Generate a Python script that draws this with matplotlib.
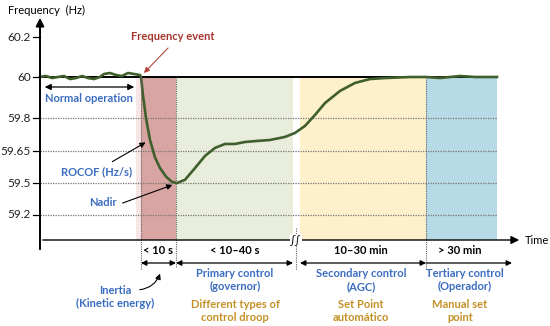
import numpy as np
import matplotlib
matplotlib.use("Agg")
import matplotlib.pyplot as plt
from matplotlib.scale import FuncScale

plt.rcParams['font.family'] = ['Lato', 'DejaVu Sans']

# y axis is schematic: tick values are not evenly spaced
tick_vals = [59.2, 59.5, 59.65, 59.8, 60.0, 60.2]
tick_labels = ["59.2", "59.5", "59.65", "59.8", "60", "60.2"]

# schematic time position (x) and frequency (Hz) of the response curve
t_normal = [40, 46, 52, 58, 64, 70, 76, 82, 88, 94, 100, 104, 110, 116,
            122, 128, 134, 140]
f_normal = [60.0, 60.005, 59.995, 60.0, 60.005, 59.99, 59.995, 60.005,
            59.995, 59.99, 60.0, 60.015, 60.02, 60.01, 60.005, 60.02,
            60.015, 60.01]
t_resp = [141, 143, 146, 150, 155, 160, 166, 172, 177, 185, 195, 205, 215,
          225, 235, 245, 255, 270, 285, 295, 305, 315, 325, 340, 355, 370,
          385, 410, 426, 440, 450, 460, 475, 497]
f_resp = [60.0, 59.91, 59.80, 59.70, 59.62, 59.57, 59.53, 59.505, 59.5,
          59.515, 59.57, 59.627, 59.664, 59.682, 59.682, 59.691, 59.695,
          59.70, 59.714, 59.732, 59.764, 59.815, 59.873, 59.932, 59.971,
          59.99, 59.995, 60.0, 60.0, 59.995, 60.0, 60.005, 60.0, 60.0]

# stages along the schematic time axis
stage_times = ["< 10 s", "< 10\u201340 s", "10\u201330 min", "> 30 min"]
stage_names = ["Inertia\n(Kinetic energy)", "Primary control\n(governor)",
               "Secondary control\n(AGC)", "Tertiary control\n(Operador)"]
stage_notes = ["", "Different types of\ncontrol droop",
               "Set Point\nautom\u00e1tico", "Manual set\npoint"]

BLUE = "#3a6cc0"
GOLD = "#c39024"
GREEN = "#3f5f2c"
FS = 8

# pixel row of each tick in the original drawing
tick_rows = [215, 183, 151, 118, 77, 37]
vals_ext = [58.0] + tick_vals + [61.0]
rows_ext = [215 + 1.2 / 0.3 * 32] + tick_rows + [37 - 0.8 / 0.2 * 40]
neg_rows = [-r for r in rows_ext]


def fwd(f):
    return np.interp(f, vals_ext, neg_rows)


def inv(p):
    return np.interp(p, neg_rows, vals_ext)


fig = plt.figure(figsize=(5.5, 3.26), dpi=100)
ax = fig.add_axes([0, 0, 1, 1])
ax.set_yscale(FuncScale(ax, (fwd, inv)))
ax.set_xlim(0, 550)
ax.set_ylim(inv(-326), inv(0))
ax.axis("off")

ov = fig.add_axes([0, 0, 1, 1], facecolor="none")
ov.set_xlim(0, 550)
ov.set_ylim(326, 0)
ov.axis("off")

f_floor = inv(-240)

# shaded stages
colors = ["#d8a5a2", "#e8eddc", "#fdf0cb", "#b6dbe6"]
spans = [(141, 176), (176, 293), (300, 426), (426, 497)]
for (a, b), c in zip(spans, colors):
    ax.fill_between([a, b], [f_floor, f_floor], [60, 60], color=c, lw=0)
ax.fill_between([136, 141], [f_floor] * 2, [60] * 2, color="#f8e6e6", lw=0)

# grid lines and ticks
for v, lab in zip(tick_vals, tick_labels):
    if v == 60.0:
        ax.plot([40, 497], [v, v], color="black", lw=1.4, zorder=3)
    elif v < 60:
        ax.plot([40, 497], [v, v], color="#777777", lw=0.9, ls=(0, (1, 1)),
                zorder=2)
    ax.plot([33, 40], [v, v], color="black", lw=0.9)
    ax.text(31, v, lab, ha="right", va="center", fontsize=8.5,
            color="#222222")

# vertical dotted separators
for x, top, bot in [(141, 77, 270), (176, 77, 268), (426, 77, 270),
                    (296, 228, 270)]:
    ov.plot([x, x], [top, bot], color="#666666", lw=0.8, ls=(0, (1, 1)),
            zorder=2)

# curve
ax.plot(t_normal + t_resp, f_normal + f_resp, color=GREEN, lw=1.9,
        zorder=5)

# axes
ov.annotate("", xy=(40, 15), xytext=(40, 252),
            arrowprops=dict(arrowstyle="-|>", color="black", lw=1.4,
                            mutation_scale=12))
ov.annotate("", xy=(522, 240), xytext=(40, 240),
            arrowprops=dict(arrowstyle="-|>", color="black", lw=1.0,
                            mutation_scale=12))
ov.text(525, 240, "Time", ha="left", va="center", fontsize=8)
ov.text(8, 10, "Frequency  (Hz)", ha="left", va="center", fontsize=8)
ov.text(296, 240, "\u222b\u222b", ha="center", va="center", fontsize=8,
        bbox=dict(fc="white", ec="none", pad=0.5))

# top annotations
ov.text(173, 37, "Frequency event", ha="center", va="center", fontsize=FS,
        fontweight="bold", color="#a5352c")
ov.annotate("", xy=(142, 75), xytext=(170, 46),
            arrowprops=dict(arrowstyle="-|>", color="#b04a3c", lw=0.8,
                            mutation_scale=8, fc="#d0302a"))
ov.annotate("", xy=(42, 87), xytext=(137, 87),
            arrowprops=dict(arrowstyle="<|-|>", color="black", lw=0.9,
                            mutation_scale=9))
ov.text(89, 99, "Normal operation", ha="center", va="center", fontsize=FS,
        fontweight="bold", color=BLUE)
ov.text(97, 172, "ROCOF (Hz/s)", ha="center", va="center", fontsize=FS,
        fontweight="bold", color=BLUE)
ov.annotate("", xy=(148, 141), xytext=(110, 163),
            arrowprops=dict(arrowstyle="-|>", color="black", lw=0.8,
                            mutation_scale=8))
ov.text(103, 202, "Nadir", ha="center", va="center", fontsize=FS,
        fontweight="bold", color=BLUE)
ov.annotate("", xy=(175, 184), xytext=(120, 204),
            arrowprops=dict(arrowstyle="-|>", color="black", lw=0.8,
                            mutation_scale=8))

# stage labels under the time axis
mids = [158, 235, 361, 460]
for i in range(4):
    ov.text(mids[i], 251, stage_times[i], ha="center", va="center",
            fontsize=FS, fontweight="bold")
for a, b, style in [(141, 176, "<|-|>"), (176, 293, "<|-|>"),
                    (300, 426, "<|-|>"), (426, 512, "-|>")]:
    ov.annotate("", xy=(b, 263), xytext=(a, 263),
                arrowprops=dict(arrowstyle=style, color="black", lw=0.9,
                                mutation_scale=8, shrinkA=0, shrinkB=0))

ov.text(115, 297, stage_names[0], ha="center", va="center", fontsize=FS,
        fontweight="bold", color=BLUE, linespacing=1.3)
ov.annotate("", xy=(161, 271), xytext=(137, 290),
            arrowprops=dict(arrowstyle="-|>", color="black", lw=0.8,
                            mutation_scale=8,
                            connectionstyle="arc3,rad=0.35"))
for i in range(1, 4):
    ov.text(mids[i] + (5 if i == 3 else 0), 280, stage_names[i],
            ha="center", va="center", fontsize=FS, fontweight="bold",
            color=BLUE, linespacing=1.3)
    ov.text(mids[i], 311, stage_notes[i], ha="center", va="center",
            fontsize=FS, fontweight="bold", color=GOLD, linespacing=1.3)

fig.savefig("out.png", dpi=100)
